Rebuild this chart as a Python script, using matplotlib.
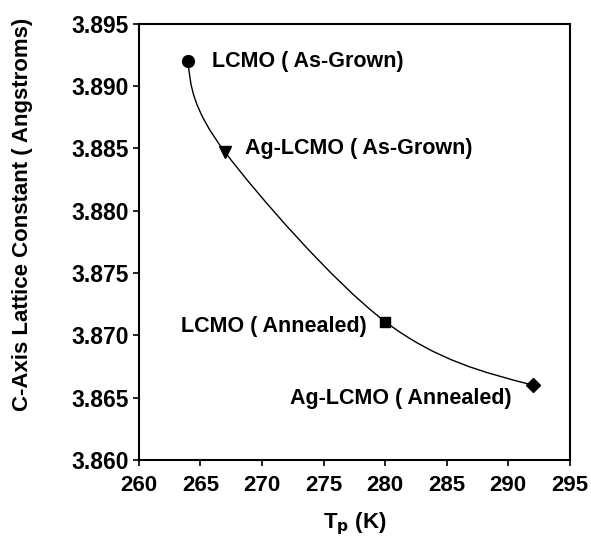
import numpy as np
import matplotlib
matplotlib.use("Agg")
import matplotlib.pyplot as plt
from matplotlib.path import Path
from matplotlib.patches import PathPatch

# data
tp = [264, 267, 280, 292]
c_axis = [3.892, 3.8847, 3.8711, 3.8660]
markers = ['o', 'v', 's', 'D']
msizes = [8.5, 8, 7.5, 7.5]
labels = ['LCMO ( As-Grown)', 'Ag-LCMO ( As-Grown)', 'LCMO ( Annealed)', 'Ag-LCMO ( Annealed)']

plt.rcParams['font.family'] = ['Liberation Sans', 'DejaVu Sans']
plt.rcParams['font.weight'] = 'bold'

fig = plt.figure(figsize=(5.91, 5.41), dpi=100)
ax = fig.add_axes([0.235, 0.150, 0.729, 0.806])

# smooth curve through points (cubic hermite / bezier, like a spreadsheet "smoothed line")
P = np.column_stack([tp, c_axis])
n = len(P)
T = np.zeros_like(P)
for i in range(1, n - 1):
    T[i] = (P[i + 1] - P[i - 1]) / 2
T[0] = 1.5 * (P[1] - P[0]) - 0.5 * T[1]
T[-1] = 1.5 * (P[-1] - P[-2]) - 0.5 * T[-2]
verts = [P[0]]
codes = [Path.MOVETO]
for i in range(n - 1):
    verts += [P[i] + T[i] / 3, P[i + 1] - T[i + 1] / 3, P[i + 1]]
    codes += [Path.CURVE4] * 3
ax.add_patch(PathPatch(Path(verts, codes), facecolor='none', edgecolor='black', lw=1.0))

for x, y, m, s in zip(tp, c_axis, markers, msizes):
    ax.plot(x, y, marker=m, color='black', markersize=s, linestyle='none', zorder=3)

ax.text(265.9, 3.892, labels[0], fontsize=15.5, fontweight='bold', va='center', ha='left')
ax.text(268.6, 3.885, labels[1], fontsize=15.5, fontweight='bold', va='center', ha='left')
ax.text(278.5, 3.8707, labels[2], fontsize=15.5, fontweight='bold', va='center', ha='right')
ax.text(290.3, 3.8649, labels[3], fontsize=15.5, fontweight='bold', va='center', ha='right')

ax.set_xlim(260, 295)
ax.set_ylim(3.860, 3.895)
ax.set_xticks(np.arange(260, 296, 5))
ax.set_yticks(np.arange(3.860, 3.8951, 0.005))
ax.set_yticklabels(['%.3f' % v for v in np.arange(3.860, 3.8951, 0.005)])
ax.tick_params(direction='out', length=4, width=1.2, top=False, right=False)
ax.tick_params(axis='x', pad=7, labelsize=16)
ax.tick_params(axis='y', pad=3, labelsize=16.5)
for sp in ax.spines.values():
    sp.set_linewidth(1.5)

ax.set_xlabel(r'T$_\mathbf{p}$ (K)', fontsize=16, fontweight='bold', labelpad=10)
ax.set_ylabel('C-Axis Lattice Constant ( Angstroms)', fontsize=16, fontweight='bold')
ax.yaxis.set_label_coords(-0.245, 0.562)

fig.savefig('out.png', dpi=100)
